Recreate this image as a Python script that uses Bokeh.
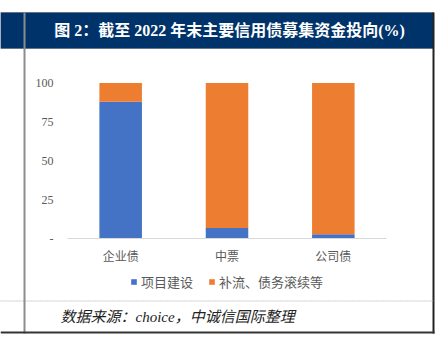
from bokeh.plotting import figure
from bokeh.models import (ColumnDataSource, Range1d, FixedTicker, Legend, LinearAxis,
                          LegendItem, BoxAnnotation, Label)
from bokeh.embed import file_html
from bokeh.resources import INLINE

# ---- data ----
categories = ["企业债", "中票", "公司债"]
project = [88, 7, 3]            # 项目建设
refinance = [12, 93, 97]        # 补流、债务滚续等
series_names = ["项目建设", "补流、债务滚续等"]
y_ticks = [0, 25, 50, 75, 100]
title_text = "图 2：截至 2022 年末主要信用债募集资金投向(%)"
source_text = "数据来源：choice，中诚信国际整理"

BLUE = "#4472C4"
ORANGE = "#ED7D31"
GRAY_TXT = "#595959"

xpos = [i + 0.5 for i in range(len(categories))]
src = ColumnDataSource(dict(x=xpos, cat=categories, project=project, refinance=refinance))

# frame covers the whole canvas; axes are drawn at fixed data locations
p = figure(width=446, height=351, x_range=Range1d(-0.6301, 3.5643),
           y_range=Range1d(-72.12, 152.88), output_backend="svg", toolbar_location=None,
           x_axis_location=None, y_axis_location=None,
           min_border=0, min_border_left=0, min_border_right=0,
           min_border_top=0, min_border_bottom=0)
p.outline_line_color = None
p.background_fill_color = "white"
p.border_fill_color = "white"
p.xgrid.visible = False
p.ygrid.visible = False

rs = p.vbar_stack(["project", "refinance"], x="x", width=0.4, source=src,
                  color=[BLUE, ORANGE], line_color=None)

# y axis
yax = LinearAxis(fixed_location=0, ticker=FixedTicker(ticks=y_ticks))
yax.major_label_overrides = {0: "-"}
yax.axis_line_color = None
yax.major_tick_line_color = None
yax.minor_tick_line_color = None
yax.major_label_standoff = 8
yax.major_label_text_font = "Liberation Serif"
yax.major_label_text_font_size = "12px"
yax.major_label_text_color = GRAY_TXT
p.add_layout(yax, "left")

# x axis (category labels)
xax = LinearAxis(fixed_location=0, ticker=FixedTicker(ticks=xpos), bounds=(0, len(categories)))
xax.major_label_overrides = {x: c for x, c in zip(xpos, categories)}
xax.axis_line_color = "#D9D9D9"
xax.axis_line_width = 1
xax.major_tick_line_color = None
xax.minor_tick_line_color = None
xax.major_label_standoff = 2
xax.major_label_text_font = "Noto Sans CJK SC"
xax.major_label_text_font_size = "12px"
xax.major_label_text_color = GRAY_TXT
p.add_layout(xax, "below")

# legend
legend = Legend(items=[LegendItem(label=series_names[0], renderers=[rs[0]]),
                       LegendItem(label=series_names[1], renderers=[rs[1]])],
                orientation="horizontal", location=(130, 60),
                glyph_width=7, glyph_height=7, label_standoff=4, spacing=15,
                padding=0, margin=0, border_line_color=None, background_fill_alpha=0,
                label_text_font="Noto Sans CJK SC", label_text_font_size="13px",
                label_text_color=GRAY_TXT)
p.add_layout(legend, "center")

# ---- decorations (canvas units) ----
def box(l, r, t, b, fill, line=None, lw=1, dash="solid", falpha=1):
    a = BoxAnnotation(left=l, right=r, top=t, bottom=b,
                      left_units="canvas", right_units="canvas",
                      top_units="canvas", bottom_units="canvas",
                      fill_color=fill, fill_alpha=falpha, line_color=line,
                      line_width=lw, line_dash=dash)
    p.add_layout(a)

box(0, 433, 12, 48, "#00336A", line="#222222")
box(23, 25, 12, 333, "#8C8C8C")
box(432, 434, 12, 333, "#222222")
box(0, 434, 331, 333, "#333333")
box(0, 433, 300, 301, None, line="#9A9A9A", dash="2 1", falpha=0)

title = Label(x=229, y=30, x_units="canvas", y_units="canvas", text=title_text,
              text_align="center", text_baseline="middle", text_color="white",
              text_font="Liberation Serif, Noto Sans CJK SC", text_font_size="16px",
              text_font_style="bold")
p.add_layout(title)

foot = Label(x=60, y=316, x_units="canvas", y_units="canvas", text=source_text,
             text_align="left", text_baseline="middle", text_color="#222222",
             text_font="Liberation Serif, Noto Sans CJK SC", text_font_size="15px",
             text_font_style="italic")
p.add_layout(foot)

open("out.html", "w").write(file_html(p, INLINE))
